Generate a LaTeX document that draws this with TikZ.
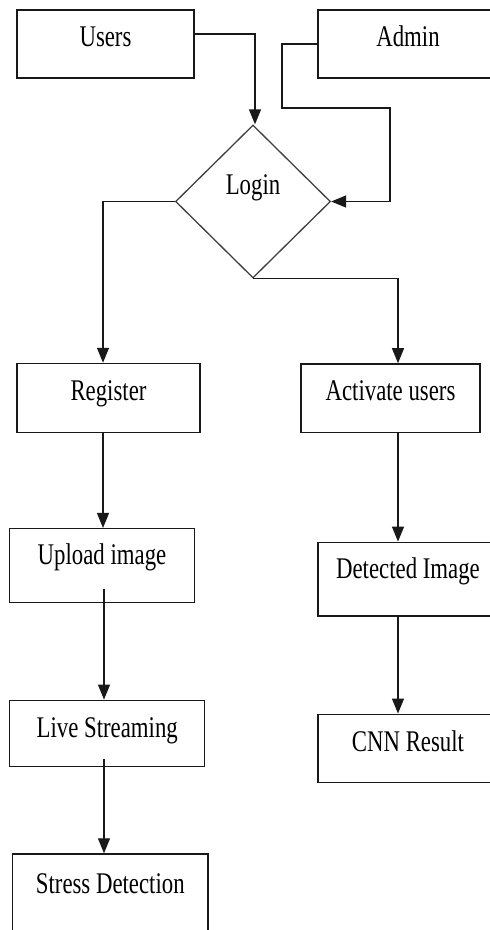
\documentclass[tikz,border=0pt]{standalone}
\usepackage{fontspec}
\setmainfont[FakeStretch=0.76]{Liberation Serif}
\usetikzlibrary{arrows.meta,shapes.geometric}
\begin{document}
\begin{tikzpicture}[x=1pt,y=-1pt,
  every node/.style={font=\fontsize{30}{36}\selectfont, text=black},
  box/.style={draw=black!90, line width=1.5pt, rectangle, inner sep=0pt,
              text height=20pt, text depth=15pt},
  dia/.style={draw=black!75, line width=1.3pt, diamond, inner sep=0pt,
              text height=10pt, text depth=25pt},
  arr/.style={draw=black!90, line width=1.3pt, -{Triangle[width=12pt,length=15pt]}},
  ln/.style={draw=black!90, line width=1.3pt}]
\clip (0,0) rectangle (490,930);
\fill[white] (0,0) rectangle (490,930);

\node[box, minimum width=177pt, minimum height=68pt] (users) at (105.5,44) {Users};
\node[box, minimum width=180pt, minimum height=68pt] (admin) at (408,44) {Admin};
\node[dia, minimum width=155pt, minimum height=153pt] (login) at (253,201.5) {Login};
\node[box, minimum width=183pt, minimum height=69pt] (register) at (108.5,398) {Register};
\node[box, minimum width=179pt, minimum height=68.7pt] (activate) at (390.5,398.3) {Activate users};
\node[box, minimum width=184.6pt, minimum height=74pt, text height=17pt, text depth=19pt] (upload) at (102,565.7) {Upload image};
\node[box, minimum width=180pt, minimum height=73.7pt, text height=17pt, text depth=19pt] (detected) at (408,579.2) {Detected Image};
\node[box, minimum width=195pt, minimum height=66.4pt, text height=21pt, text depth=13.4pt] (live) at (107.2,733.5) {Live Streaming};
\node[box, minimum width=180pt, minimum height=68.4pt] (cnn) at (408,748.5) {CNN Result};
\node[box, minimum width=195.3pt, minimum height=84pt, text height=15pt, text depth=20.4pt] (stress) at (110.3,896) {Stress Detection};

\coordinate (a1) at (282,108);
\coordinate (a2) at (390,108);

\draw[arr] ([yshift=10pt]users.east) -| ([xshift=2pt]login.north);
\draw[arr] (admin.west) -| (a1) -- (a2) |- (login.east);
\draw[arr] (login.west) -| ([xshift=-5.5pt]register.north);
\draw[arr] (login.south) -| ([xshift=7.5pt]activate.north);
\draw[arr] ([xshift=-5.5pt]register.south) -- ([xshift=1pt]upload.north);
\draw[arr] ([xshift=2pt,yshift=14pt]upload.south) -- ([xshift=-3.2pt]live.north);
\draw[arr] ([xshift=-3.2pt,yshift=8pt]live.south) -- ([xshift=-6.3pt]stress.north);
\draw[arr] ([xshift=7.5pt]activate.south) -- ([xshift=-10pt]detected.north);
\draw[arr] ([xshift=-10pt]detected.south) -- ([xshift=-10pt]cnn.north);
\end{tikzpicture}
\end{document}
